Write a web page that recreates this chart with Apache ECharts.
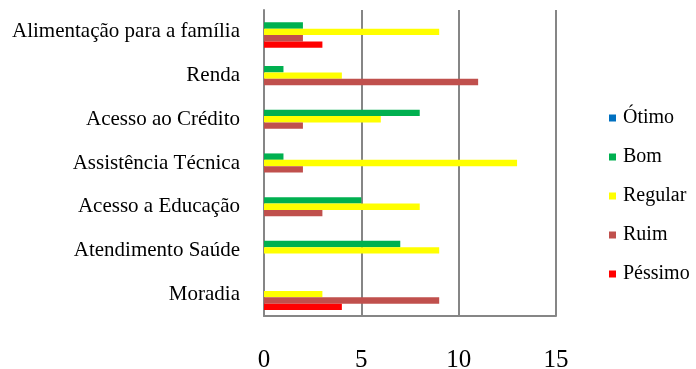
<!DOCTYPE html>
<html>
<head>
<meta charset="utf-8">
<script src="https://cdn.jsdelivr.net/npm/echarts@6/dist/echarts.min.js"></script>
<style>
  html, body { margin: 0; padding: 0; background: #fff; }
  #chart { width: 696px; height: 369px; }
</style>
</head>
<body>
<div id="chart"></div>
<script>
// Categories, listed top to bottom
const categories = [
  'Alimentação para a família',
  'Renda',
  'Acesso ao Crédito',
  'Assistência Técnica',
  'Acesso a Educação',
  'Atendimento Saúde',
  'Moradia'
];

// Number of answers per rating
const otimo   = [0, 0, 0, 0, 0, 0, 0];
const bom     = [2, 1, 8, 1, 5, 7, 0];
const regular = [9, 4, 6, 13, 8, 9, 3];
const ruim    = [2, 11, 2, 2, 3, 0, 9];
const pessimo = [3, 0, 0, 0, 0, 0, 4];

const seriesNames = ['Ótimo', 'Bom', 'Regular', 'Ruim', 'Péssimo'];
const seriesData = [otimo, bom, regular, ruim, pessimo];
const seriesColors = ['#0070C0', '#00B050', '#FFFF00', '#C0504D', '#FF0000'];

const xTicks = [0, 5, 10, 15];

const FONT = '"Liberation Serif", "Times New Roman", serif';

const chart = echarts.init(document.getElementById('chart'), null, { renderer: 'canvas' });

chart.setOption({
  animation: false,
  backgroundColor: '#ffffff',
  textStyle: { fontFamily: FONT, color: '#000' },
  grid: { left: 264, right: 140, top: 10, bottom: 53, outerBoundsMode: 'none', containLabel: false },
  legend: {
    orient: 'vertical',
    left: 604,
    top: 103,
    itemWidth: 7,
    itemHeight: 7,
    itemGap: 19,
    icon: 'rect',
    textStyle: { fontFamily: FONT, fontSize: 20, color: '#000', padding: [0, 0, 0, 2] },
    data: seriesNames
  },
  xAxis: {
    type: 'value',
    min: xTicks[0],
    max: xTicks[xTicks.length - 1],
    interval: 5,
    axisLine: { show: true, lineStyle: { color: '#868686', width: 2 } },
    axisTick: { show: false },
    axisLabel: { fontFamily: FONT, fontSize: 25, color: '#000', margin: 32 },
    splitLine: { show: true, lineStyle: { color: '#868686', width: 2 } }
  },
  yAxis: {
    type: 'category',
    inverse: true,
    data: categories,
    axisLine: { show: true, lineStyle: { color: '#868686', width: 2 } },
    axisTick: { show: false },
    axisLabel: { fontFamily: FONT, fontSize: 21, color: '#000', margin: 24, padding: [6, 0, 0, 0] }
  },
  series: seriesNames.map((name, i) => ({
    name,
    type: 'bar',
    data: seriesData[i],
    itemStyle: { color: seriesColors[i] },
    barGap: '0%',
    barCategoryGap: '27%'
  }))
});
</script>
</body>
</html>
